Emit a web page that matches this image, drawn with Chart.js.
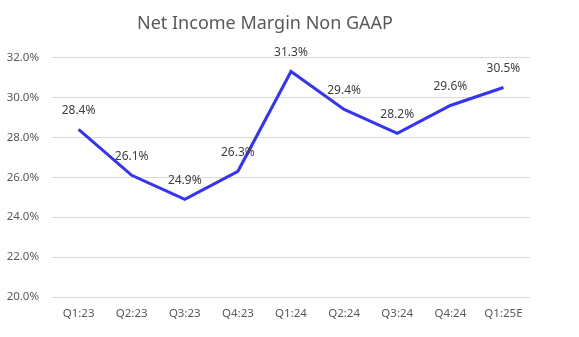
<!DOCTYPE html>
<html>
<head>
<meta charset="utf-8">
<script src="https://cdn.jsdelivr.net/npm/chart.js@4"></script>
<style>
  body { margin: 0; background: #fff; }
  #wrap { width: 579px; height: 337px; }
</style>
</head>
<body>
<div id="wrap"><canvas id="margin" width="579" height="337"></canvas></div>
<script>
const quarters = ['Q1:23', 'Q2:23', 'Q3:23', 'Q4:23', 'Q1:24', 'Q2:24', 'Q3:24', 'Q4:24', 'Q1:25E'];
const marginPct = [28.4, 26.1, 24.9, 26.3, 31.3, 29.4, 28.2, 29.6, 30.5];
const yMin = 20, yMax = 32, yStep = 2;

const font = '"Noto Sans", "Open Sans", sans-serif';
const textColor = '#595959';

// small inline value labels, drawn above each point
const valueLabels = {
  id: 'valueLabels',
  afterDatasetsDraw(chart) {
    const c = chart.ctx;
    const meta = chart.getDatasetMeta(0);
    c.save();
    c.font = '12px ' + font;
    c.fillStyle = '#404040';
    c.textAlign = 'center';
    c.textBaseline = 'middle';
    meta.data.forEach((pt, i) => {
      c.fillText(marginPct[i].toFixed(1) + '%', pt.x, pt.y - 19);
    });
    c.restore();
  }
};

let ctx = document.getElementById('margin');

const chart = new Chart(ctx, {
  type: 'line',
  data: {
    labels: quarters,
    datasets: [{
      data: marginPct,
      borderColor: '#3333FF',
      backgroundColor: '#3333FF',
      borderWidth: 3,
      pointRadius: 0,
      tension: 0
    }]
  },
  options: {
    responsive: false,
    animation: false,
    layout: { padding: { left: 0, right: 49, top: 0, bottom: 0 } },
    plugins: {
      legend: { display: false },
      tooltip: { enabled: false },
      title: {
        display: true,
        text: 'Net Income Margin Non GAAP',
        color: textColor,
        font: { family: font, size: 18, weight: 'normal' },
        padding: { top: 13, bottom: 23 }
      }
    },
    scales: {
      x: {
        offset: true,
        grid: { display: false },
        border: { display: false },
        ticks: { color: textColor, font: { family: font, size: 11.5 }, padding: 2, maxRotation: 0 },
        afterFit: s => { s.height = 40; }
      },
      y: {
        min: yMin,
        max: yMax,
        ticks: {
          stepSize: yStep,
          color: textColor,
          font: { family: font, size: 11.5 },
          padding: 13,
          callback: v => v.toFixed(1) + '%'
        },
        grid: { color: '#d9d9d9', drawTicks: false },
        border: { display: false },
        afterFit: s => { s.width = 52; }
      }
    }
  },
  plugins: [valueLabels]
});
</script>
</body>
</html>
